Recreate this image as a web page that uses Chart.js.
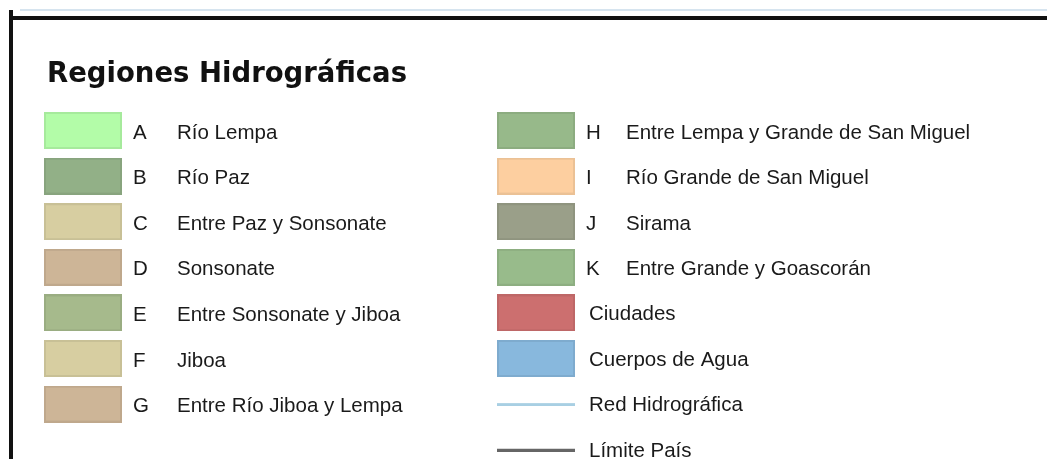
<!DOCTYPE html>
<html>
<head>
<meta charset="utf-8">
<script src="https://cdn.jsdelivr.net/npm/chart.js@4/dist/chart.umd.min.js"></script>
<style>
  html, body { margin: 0; padding: 0; background: #fff; }
  #wrap { width: 1047px; height: 459px; position: relative; }
</style>
</head>
<body>
<div id="wrap"><canvas id="canvas1"></canvas></div>
<script>
// legend rows, left column
const leftCodes = ['A', 'B', 'C', 'D', 'E', 'F', 'G'];
const leftNames = ['Río Lempa', 'Río Paz', 'Entre Paz y Sonsonate', 'Sonsonate',
    'Entre Sonsonate y Jiboa', 'Jiboa', 'Entre Río Jiboa y Lempa'];
const leftColors = ['#b3fca8', '#92b087', '#d7cea1', '#cdb597', '#a6ba8c', '#d7cea1', '#cdb597'];
const leftRows = [0, 1, 2, 3, 4, 5, 6];

// legend rows, right column
const rightCodes = ['H', 'I', 'J', 'K', '', '', '', ''];
const rightNames = ['Entre Lempa y Grande de San Miguel', 'Río Grande de San Miguel', 'Sirama',
    'Entre Grande y Goascorán', 'Ciudades', 'Cuerpos de Agua', 'Red Hidrográfica', 'Límite País'];
const rightColors = ['#97b98a', '#fdcfa0', '#9a9f89', '#98bb8b', '#cc6f6f', '#88b8dd', '#a8cfe3', '#666666'];
const rightKinds = ['box', 'box', 'box', 'box', 'box', 'box', 'line', 'line'];
const rightRows = [0, 1, 2, 3, 4, 5, 6, 7];

const title = 'Regiones Hidrográficas';

function darker(hex, f) {
    const n = parseInt(hex.slice(1), 16);
    const r = Math.round(((n >> 16) & 255) * f), g = Math.round(((n >> 8) & 255) * f), b = Math.round((n & 255) * f);
    return 'rgb(' + r + ',' + g + ',' + b + ')';
}

function swatch(color, kind) {
    const c = document.createElement('canvas');
    const ctx = c.getContext('2d');
    if (kind === 'line') {
        c.width = 78; c.height = 4;
        ctx.fillStyle = color;
        ctx.fillRect(0, 1, 78, 3);
    } else {
        c.width = 78; c.height = 37;
        ctx.fillStyle = color;
        ctx.fillRect(0, 0, 78, 37);
        ctx.strokeStyle = darker(color, 0.93);
        ctx.lineWidth = 2;
        ctx.strokeRect(1, 1, 76, 35);
    }
    return c;
}

const leftStyles = leftColors.map(c => swatch(c, 'box'));
const rightStyles = rightColors.map((c, i) => swatch(c, rightKinds[i]));

const labelFont = '20.5px "Liberation Sans", Arial, sans-serif';

const legendText = {
    id: 'legendText',
    beforeDraw(chart) {
        const ctx = chart.ctx;
        ctx.save();
        ctx.fillStyle = '#fff';
        ctx.fillRect(0, 0, chart.width, chart.height);
        // frame
        ctx.fillStyle = '#d6e4ef';
        ctx.fillRect(20, 9, chart.width - 20, 2);
        ctx.fillStyle = '#111';
        ctx.fillRect(9, 16, chart.width - 9, 4);
        ctx.fillRect(9, 10, 4, chart.height - 10);
        // title, sized to the width it takes in the picture
        let size = 26;
        ctx.font = 'bold ' + size + 'px "DejaVu Sans", sans-serif';
        size = size * 360 / ctx.measureText(title).width;
        ctx.font = 'bold ' + size.toFixed(1) + 'px "DejaVu Sans", sans-serif';
        ctx.fillStyle = '#111';
        ctx.textBaseline = 'alphabetic';
        ctx.fillText(title, 47, 82);
        ctx.restore();
    },
    afterDatasetsDraw(chart) {
        const ctx = chart.ctx;
        ctx.save();
        ctx.font = labelFont;
        ctx.fillStyle = '#1a1a1a';
        ctx.textBaseline = 'alphabetic';
        chart.data.datasets.forEach((ds, di) => {
            const meta = chart.getDatasetMeta(di);
            meta.data.forEach((pt, i) => {
                const code = ds.codes[i];
                if (code) {
                    ctx.fillText(code, pt.x + 50, pt.y + 8);
                    ctx.fillText(ds.names[i], pt.x + ds.nameOffset, pt.y + 8);
                } else {
                    ctx.fillText(ds.names[i], pt.x + 53, pt.y + 7);
                }
            });
        });
        ctx.restore();
    }
};

const config = {
    type: 'scatter',
    data: {
        datasets: [{
            label: 'izquierda',
            data: leftRows.map(r => ({ x: 0, y: r })),
            codes: leftCodes,
            names: leftNames,
            nameOffset: 94,
            pointStyle: leftStyles,
            pointRadius: 1
        }, {
            label: 'derecha',
            data: rightRows.map(r => ({ x: 1, y: r })),
            codes: rightCodes,
            names: rightNames,
            nameOffset: 90,
            pointStyle: rightStyles,
            pointRadius: 1
        }]
    },
    options: {
        responsive: true,
        maintainAspectRatio: false,
        animation: false,
        events: [],
        layout: { padding: 0, autoPadding: false },
        plugins: {
            legend: { display: false },
            tooltip: { enabled: false }
        },
        scales: {
            x: { type: 'linear', display: false, bounds: 'data', min: -83 / 453, max: -83 / 453 + 1047 / 453 },
            y: { type: 'linear', display: false, bounds: 'data', reverse: true, min: -130.5 / 45.6, max: -130.5 / 45.6 + 459 / 45.6 }
        }
    },
    plugins: [legendText]
};

var canvas = document.getElementById('canvas1');
const chart = new Chart(canvas, config);
</script>
</body>
</html>
